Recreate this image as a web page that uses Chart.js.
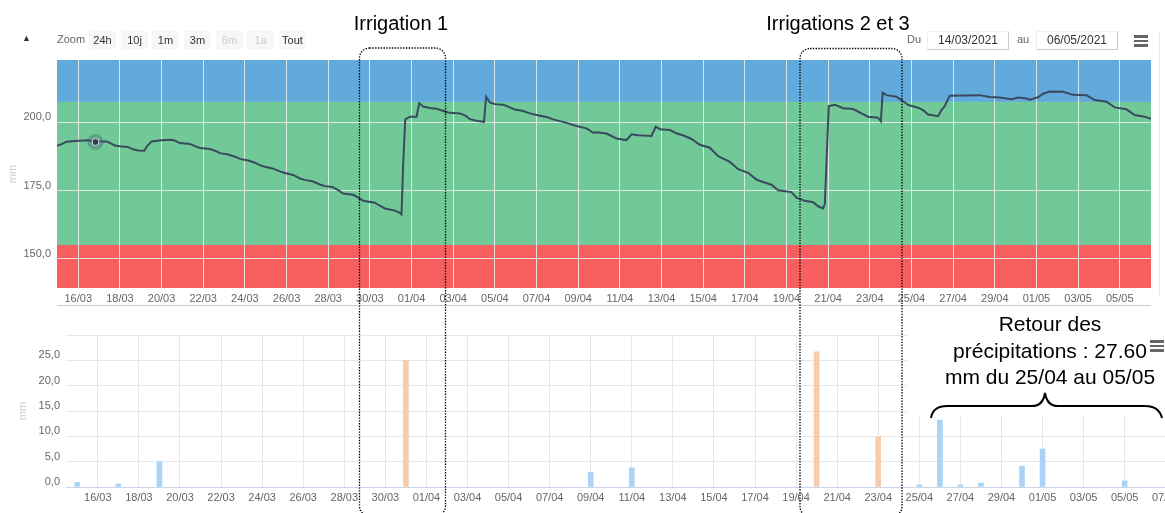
<!DOCTYPE html>
<html lang="fr">
<head>
<meta charset="utf-8">
<title>Réserve en eau et précipitations</title>
<script src="https://cdn.jsdelivr.net/npm/chart.js@4.4.1/dist/chart.umd.min.js"></script>
<style>
  html, body { margin:0; padding:0; background:#fff; overflow:hidden; }
  body { width:1165px; height:513px; position:relative; font-family:"Liberation Sans", Arial, sans-serif; }
  #soilWrap { position:absolute; left:0; top:0; width:1165px; height:310px; }
  #rainWrap { position:absolute; left:0; top:310px; width:1200px; height:203px; }
  .abs { position:absolute; }
  .btn { position:absolute; top:31px; width:27px; height:18px; line-height:18px; background:#f7f7f7; color:#333; font-size:11px; text-align:center; }
  .btn.off { color:#ccc; }
  .lbl { position:absolute; font-size:11px; color:#666; }
  .dateBox { position:absolute; top:31px; height:17px; line-height:17px; width:80px; font-size:12px; color:#333; text-align:center;
             border-right:1px solid #ccc; border-bottom:1px solid #ccc; border-top:1px solid #f0f0f0; border-left:1px solid #f0f0f0; }
  .menu { position:absolute; width:14px; z-index:4; }
  .menu i { display:block; height:2.5px; background:#666; margin-bottom:2px; }
  .note { position:absolute; font-family:"Liberation Sans", Arial, sans-serif; color:#000; text-align:center; z-index:4; white-space:nowrap; }
</style>
</head>
<body>
<div id="soilWrap"><canvas id="soilChart"></canvas></div>
<div id="rainWrap"><canvas id="rainChart"></canvas></div>

<!-- barre d'outils Highcharts -->
<div class="lbl" style="left:22px; top:33px; font-size:9px; color:#333;">▲</div>
<div class="lbl" style="left:57px; top:33px;">Zoom</div>
<div class="btn" style="left:89px;">24h</div>
<div class="btn" style="left:121px;">10j</div>
<div class="btn" style="left:152px;">1m</div>
<div class="btn" style="left:184px;">3m</div>
<div class="btn off" style="left:216px;">6m</div>
<div class="btn off" style="left:247px;">1a</div>
<div class="btn" style="left:279px;">Tout</div>
<div class="lbl" style="left:907px; top:33px;">Du</div>
<div class="dateBox" style="left:927px;">14/03/2021</div>
<div class="lbl" style="left:1017px; top:33px;">au</div>
<div class="dateBox" style="left:1036px;">06/05/2021</div>
<div class="menu" style="left:1134px; top:35px;"><i></i><i></i><i></i></div>
<div class="abs" style="left:1159px; top:31px; width:1px; height:266px; background:#e6e6e6;"></div>
<div class="abs" style="left:57px; top:305px; width:1094px; height:1px; background:#ccc;"></div>

<!-- annotations -->
<div class="abs" style="left:907px; top:306px; width:258px; height:110px; background:#fff; z-index:2;"></div>
<div class="menu" style="left:1150px; top:340px;"><i></i><i></i><i></i></div>
<svg class="abs" width="1165" height="513" style="left:0; top:0; z-index:3; pointer-events:none;">
  <g fill="none" stroke="#000" stroke-width="1.3" stroke-dasharray="1.4 1.4">
    <rect x="359.5" y="48" width="86" height="468" rx="10" ry="10"/>
    <rect x="800" y="48.5" width="102" height="468" rx="10" ry="10"/>
  </g>
  <path d="M931 418 Q933 406 947 406 L1032 406 Q1043 406 1045 393 Q1047 406 1058 406 L1145 406 Q1159 406 1162 418"
        fill="none" stroke="#000" stroke-width="2"/>
</svg>
<div class="note" style="left:301px; top:11px; width:200px; font-size:20px; line-height:24px;">Irrigation 1</div>
<div class="note" style="left:738px; top:11px; width:200px; font-size:20px; line-height:24px;">Irrigations 2 et 3</div>
<div class="note" style="left:915px; top:311px; width:270px; font-size:21px; line-height:26.5px;">Retour des<br>précipitations : 27.60<br>mm du 25/04 au 05/05</div>

<script>
// jours comptés depuis le 16/03/2021 à 0h
const soilDays = [
  -1.02, -0.80, -0.56, -0.16, 0.48, 0.83, 1.12, 1.36, 1.52, 1.76,
  2.00, 2.37, 2.64, 2.88, 3.17, 3.28, 3.52, 4.00, 4.48, 4.67,
  4.88, 5.36, 5.60, 5.84, 6.32, 6.56, 6.80, 7.20, 7.52, 7.76,
  8.16, 8.48, 8.72, 8.96, 9.36, 9.68, 9.92, 10.32, 10.64, 10.88,
  11.28, 11.60, 11.84, 12.20, 12.48, 12.72, 13.20, 13.44, 13.68, 14.24,
  14.48, 14.72, 15.20, 15.44, 15.52, 15.60, 15.70, 15.92, 16.24, 16.37,
  16.56, 16.88, 17.20, 17.60, 17.84, 18.32, 18.56, 18.80, 19.12, 19.48,
  19.58, 19.76, 20.00, 20.40, 20.72, 20.96, 21.36, 21.68, 22.00, 22.48,
  22.80, 23.36, 23.92, 24.40, 24.72, 24.88, 25.36, 25.60, 25.84, 26.32,
  26.56, 26.88, 27.52, 27.72, 27.92, 28.40, 28.72, 29.12, 29.44, 29.84,
  30.32, 30.72, 31.28, 31.68, 32.16, 32.56, 32.80, 33.28, 33.60, 34.24,
  34.48, 34.88, 35.28, 35.52, 35.76, 35.84, 35.92, 36.03, 36.32, 36.72,
  37.20, 37.60, 37.92, 38.40, 38.53, 38.62, 38.80, 39.28, 39.52, 39.84,
  40.32, 40.56, 40.80, 41.28, 41.44, 41.60, 41.84, 42.48, 43.28, 43.76,
  44.24, 44.80, 45.12, 45.52, 45.68, 46.08, 46.32, 46.64, 47.28, 47.76,
  48.40, 48.80, 49.36, 49.76, 50.32, 50.72, 51.20, 51.50
];
// réserve en eau du sol (mm)
const soilValues = [
  191.4, 192.0, 192.9, 193.2, 193.4, 192.8, 193.0, 193.0, 192.5, 191.5,
  191.2, 191.0, 190.1, 189.7, 189.6, 191.0, 193.0, 193.4, 193.6, 193.2,
  192.4, 192.1, 191.3, 190.6, 190.2, 189.6, 188.7, 188.2, 187.4, 186.6,
  186.0, 185.2, 184.3, 183.7, 183.0, 182.0, 181.4, 180.7, 179.4, 178.9,
  178.3, 177.2, 176.6, 176.3, 175.1, 173.9, 173.4, 172.4, 171.2, 170.5,
  169.4, 168.4, 167.6, 166.8, 166.2, 185.0, 201.1, 202.1, 202.1, 207.0,
  205.8, 205.3, 205.0, 204.0, 203.5, 203.3, 202.6, 201.2, 200.6, 200.2,
  209.4, 207.3, 206.7, 206.5, 205.5, 204.7, 204.2, 203.3, 202.7, 202.0,
  201.1, 200.0, 198.7, 197.8, 196.2, 196.4, 195.9, 195.0, 194.1, 193.5,
  195.6, 195.3, 195.0, 198.4, 197.5, 197.2, 196.0, 195.0, 193.9, 191.8,
  190.7, 187.6, 185.5, 182.8, 181.5, 179.0, 178.3, 177.1, 175.1, 174.4,
  172.4, 171.2, 170.7, 169.2, 168.4, 170.0, 185.0, 206.0, 206.5, 205.2,
  204.9, 203.3, 202.1, 201.7, 200.4, 210.9, 210.0, 209.4, 208.2, 206.4,
  205.4, 204.5, 202.9, 202.3, 204.5, 206.0, 209.8, 209.9, 210.0, 209.3,
  209.1, 208.5, 209.1, 208.8, 208.3, 209.2, 210.5, 211.3, 211.2, 210.1,
  210.0, 208.2, 207.6, 205.5, 204.8, 202.7, 202.1, 201.3
];
const soilMarkerIndex = 5;               // point survolé (17/03)
const soilLimits = [155, 207.5];         // seuils : stress / optimum / excès
const soilYTicks = [150, 175, 200];
const soilYLabels = ['150,0', '175,0', '200,0'];
const dateLabels = ['16/03','18/03','20/03','22/03','24/03','26/03','28/03','30/03','01/04','03/04','05/04','07/04','09/04',
                    '11/04','13/04','15/04','17/04','19/04','21/04','23/04','25/04','27/04','29/04','01/05','03/05','05/05'];

// pluie et irrigation (mm / jour)
const rainDays = [-1, 1, 3, 24, 26, 40, 41, 42, 43, 45, 46, 50];
const rainValues = [0.9, 0.6, 5.0, 2.9, 3.8, 0.4, 13.2, 0.4, 0.8, 4.1, 7.5, 1.2];
const irrigDays = [15, 35, 38];
const irrigValues = [25.0, 26.7, 9.9];
const rainDateLabels = dateLabels.concat(['07/05']);
const rainYTicks = [0, 5, 10, 15, 20, 25, 30];
const rainYLabels = ['0,0', '5,0', '10,0', '15,0', '20,0', '25,0', ''];

Chart.defaults.font.family = '"Liberation Sans", Arial, sans-serif';
Chart.defaults.font.size = 11;
Chart.defaults.color = '#666';

const bandsPlugin = {
  id: 'bands',
  beforeDraw(chart) {
    const ctx = chart.ctx, a = chart.chartArea, y = chart.scales.y;
    const low = y.getPixelForValue(soilLimits[0]);
    const high = y.getPixelForValue(soilLimits[1]);
    ctx.save();
    ctx.fillStyle = '#62a9dc';
    ctx.fillRect(a.left, a.top, a.right - a.left, high - a.top);
    ctx.fillStyle = '#71c998';
    ctx.fillRect(a.left, high, a.right - a.left, low - high);
    ctx.fillStyle = '#f65e5f';
    ctx.fillRect(a.left, low, a.right - a.left, a.bottom - low);
    ctx.restore();
  }
};

const markerPlugin = {
  id: 'hoverMarker',
  afterDatasetsDraw(chart) {
    const p = chart.getDatasetMeta(0).data[soilMarkerIndex];
    const ctx = chart.ctx;
    ctx.save();
    ctx.beginPath();
    ctx.arc(p.x, p.y, 8, 0, Math.PI * 2);
    ctx.fillStyle = 'rgba(70,90,105,0.35)';
    ctx.fill();
    ctx.beginPath();
    ctx.arc(p.x, p.y, 3.5, 0, Math.PI * 2);
    ctx.fillStyle = '#2e3b50';
    ctx.fill();
    ctx.lineWidth = 1;
    ctx.strokeStyle = '#dde3e8';
    ctx.stroke();
    ctx.restore();
  }
};

// graphique du haut : réserve en eau
new Chart(document.getElementById('soilChart'), {
  type: 'line',
  data: {
    datasets: [{
      data: soilDays.map((d, i) => ({ x: d, y: soilValues[i] })),
      borderColor: '#394a5e',
      borderWidth: 2,
      pointRadius: 0,
      tension: 0
    }]
  },
  options: {
    responsive: true,
    maintainAspectRatio: false,
    animation: false,
    layout: { padding: { top: 60, right: 14, left: 0, bottom: 0 } },
    plugins: { legend: { display: false }, tooltip: { enabled: false } },
    scales: {
      x: {
        type: 'linear', min: -1.02, max: 51.5,
        afterBuildTicks: s => { s.ticks = dateLabels.map((l, i) => ({ value: i * 2 })); },
        afterFit: s => { s.height = 22; },
        ticks: { callback: (v, i) => dateLabels[i], padding: 4, maxRotation: 0, autoSkip: false },
        grid: { color: 'rgba(240,240,240,0.85)', drawTicks: false },
        border: { display: false }
      },
      y: {
        min: 139.2, max: 222.9,
        afterBuildTicks: s => { s.ticks = soilYTicks.map(v => ({ value: v })); },
        afterFit: s => { s.width = 57; },
        ticks: { callback: (v, i) => soilYLabels[i], padding: 6, labelOffset: -5 },
        grid: { color: 'rgba(240,240,240,0.85)', drawTicks: false },
        border: { display: false },
        title: { display: true, text: 'mm', color: '#ccc', padding: { top: 6, bottom: 0 } }
      }
    }
  },
  plugins: [bandsPlugin, markerPlugin]
});

// graphique du bas : pluie et irrigation
new Chart(document.getElementById('rainChart'), {
  type: 'bar',
  data: {
    datasets: [{
      label: 'Pluie',
      data: rainDays.map((d, i) => ({ x: d, y: rainValues[i] })),
      backgroundColor: '#aad4f7',
      barThickness: 5,
      grouped: false
    }, {
      label: 'Irrigation',
      data: irrigDays.map((d, i) => ({ x: d, y: irrigValues[i] })),
      backgroundColor: '#f8cba9',
      barThickness: 5,
      grouped: false
    }]
  },
  options: {
    responsive: true,
    maintainAspectRatio: false,
    animation: false,
    layout: { padding: { top: 25, right: 25, left: 0, bottom: 0 } },
    plugins: { legend: { display: false }, tooltip: { enabled: false } },
    scales: {
      x: {
        type: 'linear', min: -1.55, max: 52.45, offset: false,
        afterBuildTicks: s => { s.ticks = rainDateLabels.map((l, i) => ({ value: i * 2 })); },
        afterFit: s => { s.height = 26; },
        ticks: { callback: (v, i) => rainDateLabels[i], padding: 4, maxRotation: 0, autoSkip: false },
        grid: { color: '#e6e6e6', offset: false, drawTicks: false },
        border: { display: false }
      },
      y: {
        min: 0, max: 30,
        afterBuildTicks: s => { s.ticks = rainYTicks.map(v => ({ value: v })); },
        afterFit: s => { s.width = 66; },
        ticks: { callback: (v, i) => rainYLabels[i], padding: 6, labelOffset: -5 },
        grid: { color: c => c.tick && c.tick.value === 0 ? '#ccd6eb' : '#e6e6e6', drawTicks: false },
        border: { display: false },
        title: { display: true, text: 'mm', color: '#ccc', padding: { top: 16, bottom: 0 } }
      }
    }
  }
});
</script>
</body>
</html>
